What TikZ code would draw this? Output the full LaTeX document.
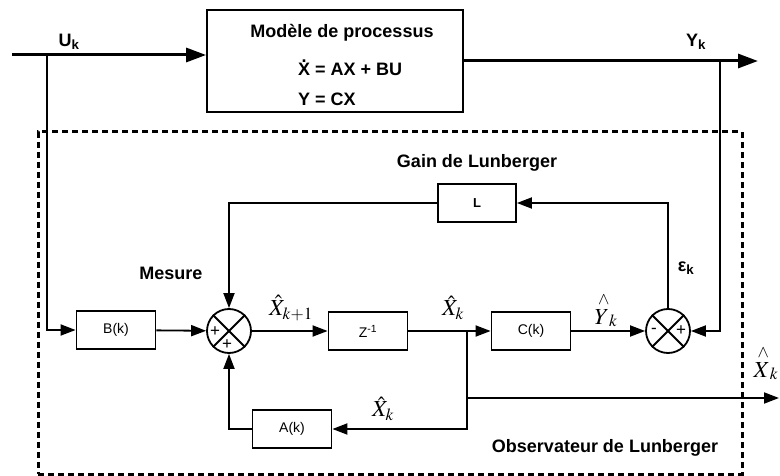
\documentclass[tikz,border=0pt]{standalone}
\usepackage{mathptmx}
\usepackage{fontspec}
\setmainfont{Liberation Sans}
\usetikzlibrary{arrows.meta}

\newcommand{\xpoint}{\ooalign{X\cr\hidewidth\raisebox{0.72em}{.}\hidewidth}}

\tikzset{
  bloc/.style={draw,line width=1.8pt,minimum width=79pt,minimum height=38pt,inner sep=0pt,font=\fontsize{14}{16}\selectfont},
  somme/.style={draw,circle,line width=1.8pt,minimum size=44pt,inner sep=0pt},
  ligne/.style={line width=1.8pt},
  fleche/.style={ligne,-{Triangle[length=15pt,width=11pt]}},
  grosse/.style={line width=3pt,-{Triangle[length=20pt,width=14pt]}},
  titre/.style={font=\bfseries\fontsize{18}{21}\selectfont},
  signe/.style={font=\fontsize{17}{19}\selectfont,inner sep=0pt},
  signal/.style={font=\fontsize{23}{26}\selectfont,inner sep=0pt},
}

\begin{document}
\begin{tikzpicture}[x=1pt,y=-1pt]
  \useasboundingbox (0,0) rectangle (780,476);

  % processus
  \node[draw,line width=1.8pt,minimum width=256pt,minimum height=102pt] (proc) at (335,61) {};
  \node[titre] (titreproc) at (342,33) {Modèle de processus};
  \node[titre,anchor=west,inner sep=0pt] (eqx) at (298,69) {\xpoint{} = AX + BU};
  \node[titre,anchor=west,inner sep=0pt] (eqy) at (298,99) {Y = CX};

  \coordinate (entree) at (12,55);
  \coordinate (sortie) at (758,61);
  \coordinate (bu) at (47,55);
  \coordinate (by) at (720,61);

  \draw[grosse] (entree) -- (entree -| proc.west);
  \draw[grosse] (proc.east |- sortie) -- (sortie);
  \node[titre] (uk) at (69,42) {U\textsubscript{k}};
  \node[titre] (yk) at (696,42) {Y\textsubscript{k}};

  % observateur
  \node[draw,line width=3pt,dash pattern=on 6pt off 4pt,minimum width=704pt,minimum height=342pt] (obs) at (390,303) {};

  \node[bloc] (bk) at (116,330) {B(k)};
  \node[somme] (s1) at (229,331) {};
  \node[bloc] (zinv) at (368,331) {Z\textsuperscript{-1}};
  \node[bloc] (ck) at (531,331) {C(k)};
  \node[somme] (s2) at (668,331) {};
  \node[bloc,minimum width=78pt,font=\bfseries\fontsize{13}{15}\selectfont] (gl) at (477,203) {L};
  \node[bloc] (ak) at (292,429) {A(k)};

  \draw[ligne] (s1.north west) -- (s1.south east);
  \draw[ligne] (s1.north east) -- (s1.south west);
  \draw[ligne] (s2.north west) -- (s2.south east);
  \draw[ligne] (s2.north east) -- (s2.south west);
  \node[signe] (p1) at (215,332) {+};
  \node[signe] (p2) at (227,345) {+};
  \node[signe] (m2) at (654,331) {-};
  \node[signe] (p3) at (681,331) {+};

  \coordinate (bx) at (467,331);
  \coordinate (xsortie) at (779,398);

  \draw[fleche] (bu) |- (bk.west);
  \draw[fleche] (by) |- (s2.east);
  \draw[fleche] (bk) -- (s1);
  \draw[fleche] (s1) -- (zinv);
  \draw[fleche] (zinv) -- (ck);
  \draw[fleche] (ck) -- (s2);
  \draw[fleche] (s2.north) |- (gl.east);
  \draw[fleche] (gl.west) -| (s1.north);
  \draw[fleche] (bx) |- (ak.east);
  \draw[fleche] (bx |- xsortie) -- (xsortie);
  \draw[fleche] (ak.west) -| (s1.south);

  \node[titre] (mesure) at (171,273) {Mesure};
  \node[titre] (gain) at (477,163) {Gain de Lunberger};
  \node[titre] (nomobs) at (605,448) {Observateur de Lunberger};
  \node[titre] (eps) at (686,268) {ε\textsubscript{k}};

  \node[signal] (xk1) at (291,308) {$\hat{X}_{k+1}$};
  \node[signal] (xk) at (453,308) {$\hat{X}_{k}$};
  \node[signal] (xkb) at (383,409) {$\hat{X}_{k}$};
  \node[signal] (yhat) at (606,310) {${\stackrel{\wedge}{Y}}_{k}$};
  \node[signal] (xhat) at (766,363) {${\stackrel{\wedge}{X}}_{k}$};
\end{tikzpicture}
\end{document}
